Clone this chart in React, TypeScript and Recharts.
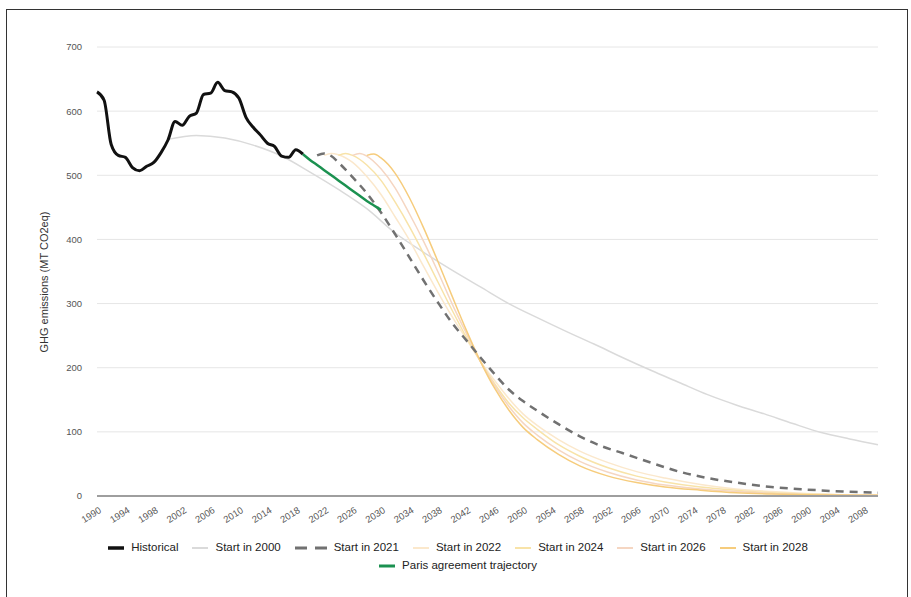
import React from "react";
import { CartesianGrid, Line, LineChart, XAxis, YAxis } from "recharts";

// historical emissions, 1990-2019
const histYears = [
  1990, 1991, 1992, 1993, 1994, 1995, 1996, 1997, 1998, 1999, 2000, 2001, 2002, 2003, 2004,
  2005, 2006, 2007, 2008, 2009, 2010, 2011, 2012, 2013, 2014, 2015, 2016, 2017, 2018, 2019,
];
const histValues = [
  630, 617, 548, 531, 528, 512, 507, 514, 520, 535, 555, 584, 578, 592, 597,
  626, 628, 645, 632, 630, 620, 590, 575, 563, 550, 545, 530, 528, 540, 533,
];

const s2000Years = [
  2000, 2004, 2008, 2012, 2016, 2020, 2024, 2028, 2032, 2036, 2040, 2044, 2048,
  2052, 2056, 2060, 2064, 2068, 2072, 2076, 2080, 2084, 2088, 2092, 2096, 2100,
];
const s2000Values = [
  556, 562, 558, 547, 530, 505, 478, 448, 410, 380, 352, 326, 300,
  278, 257, 237, 216, 196, 177, 158, 142, 128, 113, 99, 89, 80,
];

const s2021Years = [
  2021, 2022, 2023, 2024, 2026, 2028, 2030, 2032, 2034, 2036, 2038, 2040, 2042, 2044, 2046,
  2048, 2050, 2052, 2055, 2058, 2061, 2064, 2068, 2072, 2076, 2080, 2085, 2090, 2095, 2100,
];
const s2021Values = [
  531, 534, 530, 520, 497, 472, 442, 408, 372, 336, 302, 270, 243, 216, 190,
  166, 148, 133, 112, 93, 78, 67, 52, 38, 28, 21, 14, 10, 7, 5,
];

const s2022Years = [
  2022, 2023, 2024, 2026, 2028, 2030, 2032, 2034, 2036, 2038, 2040, 2042, 2044, 2046,
  2048, 2050, 2052, 2055, 2058, 2062, 2066, 2070, 2075, 2080, 2085, 2090, 2095, 2100,
];
const s2022Values = [
  531, 534, 532, 520, 498, 470, 435, 399, 358, 318, 280, 245, 210, 180,
  152, 128, 110, 88, 70, 52, 38, 28, 18, 11, 7, 4, 2, 1,
];

const s2024Years = [
  2024, 2025, 2026, 2028, 2030, 2032, 2034, 2036, 2038, 2040, 2042, 2044, 2046,
  2048, 2050, 2052, 2055, 2058, 2062, 2066, 2070, 2075, 2080, 2085, 2090, 2100,
];
const s2024Values = [
  531, 534, 531, 516, 492, 458, 420, 378, 334, 290, 248, 210, 175,
  145, 122, 104, 80, 62, 44, 31, 22, 14, 9, 5, 3, 1,
];

const s2026Years = [
  2026, 2027, 2028, 2030, 2032, 2034, 2036, 2038, 2040, 2042, 2044, 2046,
  2048, 2050, 2052, 2055, 2058, 2062, 2066, 2070, 2075, 2080, 2085, 2090, 2100,
];
const s2026Values = [
  531, 534, 530, 510, 480, 440, 397, 350, 300, 254, 210, 172,
  140, 114, 95, 72, 54, 37, 25, 17, 11, 7, 4, 2, 1,
];

const s2028Years = [
  2028, 2029, 2030, 2032, 2034, 2036, 2038, 2040, 2042, 2044, 2046,
  2048, 2050, 2052, 2055, 2058, 2062, 2066, 2070, 2075, 2080, 2085, 2090, 2100,
];
const s2028Values = [
  531, 533, 527, 503, 465, 418, 366, 312, 259, 210, 168,
  134, 107, 88, 65, 47, 31, 21, 14, 9, 5, 3, 2, 1,
];

const parisYears = [2019, 2020, 2021, 2022, 2023, 2024, 2025, 2026, 2027, 2028, 2029, 2030];
const parisValues = [533, 524, 516, 508, 500, 492, 484, 476, 468, 460, 453, 446];

const xTicks = [
  1990, 1994, 1998, 2002, 2006, 2010, 2014, 2018, 2022, 2026, 2030, 2034, 2038, 2042,
  2046, 2050, 2054, 2058, 2062, 2066, 2070, 2074, 2078, 2082, 2086, 2090, 2094, 2098,
];
const yTicks = [0, 100, 200, 300, 400, 500, 600, 700];

const pts = (years: number[], values: number[]) =>
  years.map((year, i) => ({ year, v: values[i] }));

const FONT = "'Liberation Sans', Arial, sans-serif";

type Series = {
  name: string;
  data: { year: number; v: number }[];
  color: string;
  width: number;
  dash?: string;
};

const series: Series[] = [
  { name: "Start in 2000", data: pts(s2000Years, s2000Values), color: "#dadada", width: 1.5 },
  { name: "Start in 2022", data: pts(s2022Years, s2022Values), color: "#fbe8cc", width: 1.5 },
  { name: "Start in 2024", data: pts(s2024Years, s2024Values), color: "#f8e3a8", width: 1.5 },
  { name: "Start in 2026", data: pts(s2026Years, s2026Values), color: "#f5d6c2", width: 1.5 },
  { name: "Start in 2028", data: pts(s2028Years, s2028Values), color: "#f6cc7c", width: 1.5 },
  { name: "Start in 2021", data: pts(s2021Years, s2021Values), color: "#717171", width: 2.5, dash: "8 6" },
  { name: "Paris agreement trajectory", data: pts(parisYears, parisValues), color: "#1b9150", width: 2.5 },
  { name: "Historical", data: pts(histYears, histValues), color: "#111111", width: 3 },
];

const legendRow1 = [
  "Historical",
  "Start in 2000",
  "Start in 2021",
  "Start in 2022",
  "Start in 2024",
  "Start in 2026",
  "Start in 2028",
];
const legendRow2 = ["Paris agreement trajectory"];

function YearTick({ x, y, payload }: any) {
  return (
    <g transform={`translate(${x + 5},${y + 8})`}>
      <text textAnchor="end" transform="rotate(-32)" fontSize={9.5} fill="#555" fontFamily={FONT}>
        {payload.value}
      </text>
    </g>
  );
}

function Swatch({ s }: { s: Series }) {
  const w = s.dash ? 32 : 16;
  return (
    <svg width={w} height={8} style={{ marginRight: 7 }}>
      <line
        x1={0}
        y1={4}
        x2={w}
        y2={4}
        stroke={s.color}
        strokeWidth={s.width + 0.5}
        strokeDasharray={s.dash ? "12 8" : undefined}
      />
    </svg>
  );
}

function LegendRow({ names, top }: { names: string[]; top: number }) {
  return (
    <div
      style={{
        position: "absolute",
        left: 0,
        top,
        width: 916,
        display: "flex",
        justifyContent: "center",
        gap: 14,
        fontFamily: FONT,
        fontSize: 11.5,
        color: "#222",
        lineHeight: "13px",
      }}
    >
      {names.map((n) => {
        const s = series.find((x) => x.name === n)!;
        return (
          <div key={n} style={{ display: "flex", alignItems: "center" }}>
            <Swatch s={s} />
            <span>{n}</span>
          </div>
        );
      })}
    </div>
  );
}

export default function App() {
  return (
    <div
      style={{
        position: "absolute",
        left: 0,
        top: 0,
        width: 911,
        height: 597,
        background: "#fff",
        overflow: "hidden",
      }}
    >
      <div
        style={{
          position: "absolute",
          left: 6,
          top: 9,
          width: 900,
          height: 620,
          border: "1.5px solid #333",
        }}
      />
      <div style={{ position: "absolute", left: 0, top: 0 }}>
        <LineChart width={911} height={530} margin={{ top: 47, right: 33, bottom: 0, left: 0 }}>
          <CartesianGrid horizontal vertical={false} stroke="#e6e6e6" />
          <XAxis
            dataKey="year"
            type="number"
            domain={[1990, 2100]}
            ticks={xTicks}
            interval={0}
            tick={<YearTick />}
            tickLine={false}
            axisLine={{ stroke: "#9e9e9e", strokeWidth: 2 }}
            height={34}
          />
          <YAxis
            type="number"
            domain={[0, 700]}
            ticks={yTicks}
            width={97}
            tickLine={false}
            axisLine={false}
            tickSize={0}
            tickMargin={15}
            tick={{ fill: "#555", fontSize: 9.5, fontFamily: FONT }}
          />
          {series.map((s) => (
            <Line
              key={s.name}
              data={s.data}
              dataKey="v"
              name={s.name}
              type="monotone"
              stroke={s.color}
              strokeWidth={s.width}
              strokeDasharray={s.dash}
              dot={false}
              activeDot={false}
              isAnimationActive={false}
            />
          ))}
        </LineChart>
      </div>
      <div
        style={{
          position: "absolute",
          left: 44,
          top: 282,
          transform: "translate(-50%, -50%) rotate(-90deg)",
          whiteSpace: "nowrap",
          fontFamily: FONT,
          fontSize: 11,
          color: "#333",
        }}
      >
        GHG emissions (MT CO2eq)
      </div>
      <LegendRow names={legendRow1} top={541} />
      <LegendRow names={legendRow2} top={559} />
    </div>
  );
}
